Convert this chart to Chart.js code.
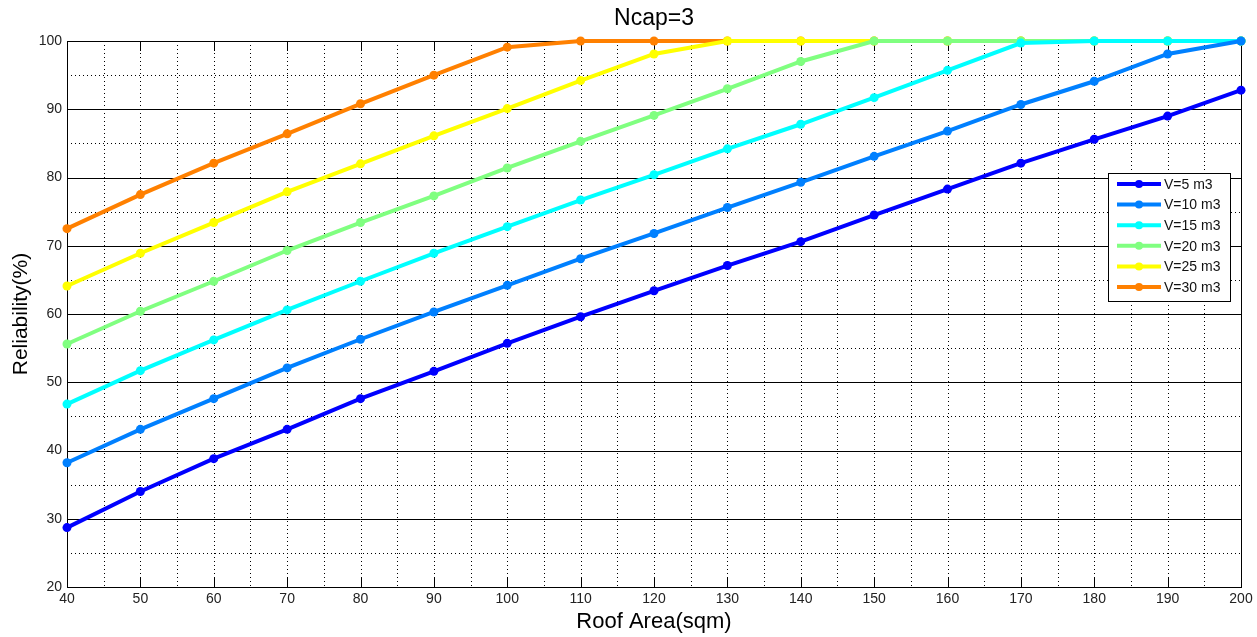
<!DOCTYPE html>
<html>
<head>
<meta charset="utf-8">
<script src="https://cdn.jsdelivr.net/npm/chart.js@4/dist/chart.umd.min.js"></script>
<style>
html,body{margin:0;padding:0;background:#fff;}
#wrap{width:1257px;height:637px;}
</style>
</head>
<body>
<div id="wrap"><canvas id="c" width="1257" height="637"></canvas></div>
<script>
const roofArea = [40,50,60,70,80,90,100,110,120,130,140,150,160,170,180,190,200];
const v5  = [28.7,34.0,38.8,43.1,47.6,51.6,55.7,59.6,63.4,67.1,70.6,74.5,78.3,82.1,85.6,89.0,92.8];
const v10 = [38.2,43.1,47.6,52.1,56.3,60.3,64.2,68.1,71.8,75.6,79.3,83.1,86.8,90.7,94.1,98.1,100];
const v15 = [46.8,51.7,56.2,60.6,64.8,68.9,72.8,76.7,80.4,84.2,87.8,91.7,95.7,99.7,100,100,100];
const v20 = [55.6,60.4,64.8,69.3,73.4,77.3,81.4,85.3,89.1,93.0,97.0,100,100,100,100,100,100];
const v25 = [64.1,68.9,73.4,77.9,82.0,86.1,90.1,94.2,98.1,100,100,100,100,100,100,100,100];
const v30 = [72.5,77.5,82.1,86.4,90.8,95.0,99.1,100,100,100,100,100,100,100,100,100,100];
const seriesNames = ['V=5 m3','V=10 m3','V=15 m3','V=20 m3','V=25 m3','V=30 m3'];
const seriesColors = ['#0000ff','#0080ff','#00ffff','#80ff80','#ffff00','#ff8000'];
const seriesValues = [v5,v10,v15,v20,v25,v30];
const xTicks = [40,50,60,70,80,90,100,110,120,130,140,150,160,170,180,190,200];
const yTicks = [20,30,40,50,60,70,80,90,100];

const FONT = "'Liberation Sans', Arial, Helvetica, sans-serif";

const datasets = seriesValues.map((vals,i)=>({
  label: seriesNames[i],
  data: roofArea.map((a,j)=>({x:a,y:vals[j]})),
  borderColor: seriesColors[i],
  backgroundColor: seriesColors[i],
  borderWidth: 4,
  pointRadius: 4.5,
  pointHoverRadius: 4.5,
  pointBorderWidth: 0,
  tension: 0,
  clip: false
}));

const gridPlugin = {
  id: 'matlabGrid',
  beforeDatasetsDraw(chart){
    const {ctx, chartArea:a, scales:{x, y}} = chart;
    ctx.save();
    ctx.lineWidth = 1;
    ctx.strokeStyle = '#000';
    ctx.setLineDash([1,3]);
    for (let v=45; v<200; v+=5){
      const px = Math.round(x.getPixelForValue(v))+0.5;
      ctx.beginPath(); ctx.moveTo(px,a.top); ctx.lineTo(px,a.bottom); ctx.stroke();
    }
    for (let v=25; v<100; v+=10){
      const py = Math.round(y.getPixelForValue(v))+0.5;
      ctx.beginPath(); ctx.moveTo(a.left,py); ctx.lineTo(a.right,py); ctx.stroke();
    }
    ctx.setLineDash([]);
    for (let v=30; v<100; v+=10){
      const py = Math.round(y.getPixelForValue(v))+0.5;
      ctx.beginPath(); ctx.moveTo(a.left,py); ctx.lineTo(a.right,py); ctx.stroke();
    }
    for (const v of xTicks){
      const px = Math.round(x.getPixelForValue(v))+0.5;
      ctx.beginPath(); ctx.moveTo(px,a.bottom); ctx.lineTo(px,a.bottom-10); ctx.stroke();
      ctx.beginPath(); ctx.moveTo(px,a.top); ctx.lineTo(px,a.top+10); ctx.stroke();
    }
    ctx.strokeRect(Math.round(a.left)+0.5, Math.round(a.top)+0.5, Math.round(a.right-a.left), Math.round(a.bottom-a.top));
    ctx.restore();
  }
};

const legendPlugin = {
  id: 'insideLegend',
  afterDatasetsDraw(chart){
    const {ctx, chartArea:a} = chart;
    const bw = 122, bh = 128;
    const bx = a.right - 133, by = 173;
    ctx.save();
    ctx.fillStyle = '#fff';
    ctx.fillRect(bx, by, bw, bh);
    ctx.strokeStyle = '#000';
    ctx.lineWidth = 1;
    ctx.strokeRect(bx+0.5, by+0.5, bw, bh);
    ctx.font = '14px ' + FONT;
    ctx.textBaseline = 'middle';
    chart.data.datasets.forEach((ds,i)=>{
      const yy = by + 11 + i*20.6;
      ctx.strokeStyle = ds.borderColor;
      ctx.lineWidth = 4;
      ctx.beginPath(); ctx.moveTo(bx+9, yy); ctx.lineTo(bx+53, yy); ctx.stroke();
      ctx.fillStyle = ds.borderColor;
      ctx.beginPath(); ctx.arc(bx+31, yy, 4, 0, Math.PI*2); ctx.fill();
      ctx.fillStyle = '#111';
      ctx.fillText(ds.label, bx+56, yy+1);
    });
    ctx.restore();
  }
};

new Chart(document.getElementById('c'), {
  type: 'line',
  data: { datasets },
  options: {
    responsive: false,
    animation: false,
    events: [],
    layout: { padding: { left: 0, right: 16, top: 0, bottom: 0 } },
    plugins: {
      legend: { display: false },
      tooltip: { enabled: false },
      title: {
        display: true,
        fullSize: false,
        text: 'Ncap=3',
        color: '#000',
        font: { family: FONT, size: 23, weight: 'normal', lineHeight: 1.2 },
        padding: { top: 5.2, bottom: 8.2 }
      }
    },
    scales: {
      x: {
        type: 'linear',
        min: 40, max: 200,
        afterFit(s){ s.height = 50; },
        afterBuildTicks(s){ s.ticks = xTicks.map(v=>({value:v})); },
        grid: { display: false, drawTicks: false },
        border: { display: false },
        ticks: { color: '#222', font: { family: FONT, size: 14 }, padding: 4, autoSkip: false, maxRotation: 0 },
        title: { display: true, text: 'Roof Area(sqm)', color: '#000', font: { family: FONT, size: 22, lineHeight: 1.2 }, padding: { top: 0, bottom: 1.8 } }
      },
      y: {
        type: 'linear',
        min: 20, max: 100,
        afterFit(s){ s.width = 67; },
        afterBuildTicks(s){ s.ticks = yTicks.map(v=>({value:v})); },
        grid: { display: false, drawTicks: false },
        border: { display: false },
        ticks: { color: '#222', font: { family: FONT, size: 14 }, padding: 5, autoSkip: false },
        title: { display: true, text: 'Reliability(%)', color: '#000', font: { family: FONT, size: 21, lineHeight: 1.2 }, padding: { top: 9, bottom: 0 } }
      }
    }
  },
  plugins: [gridPlugin, legendPlugin]
});
</script>
</body>
</html>
